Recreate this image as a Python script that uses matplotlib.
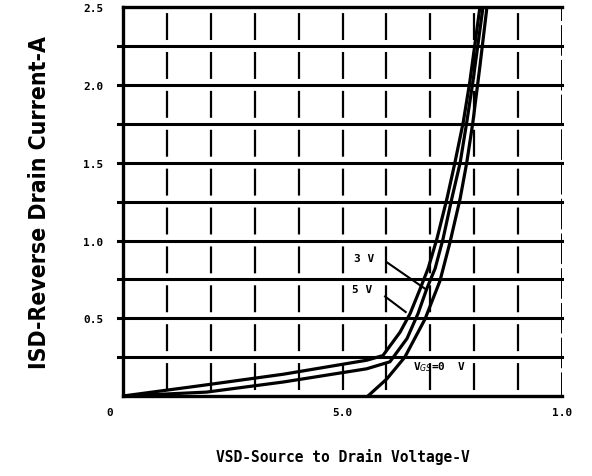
import numpy as np
import matplotlib
matplotlib.use('Agg')
import matplotlib.pyplot as plt

plt.rcParams['lines.scale_dashes'] = False

# (VSD in V, ISD in A)
vsd_5v = [0.0, 0.175, 0.365, 0.555, 0.592, 0.631, 0.654, 0.677, 0.695, 0.715,
          0.738, 0.756, 0.775, 0.790, 0.802, 0.813]
isd_5v = [0.0, 0.066, 0.14, 0.23, 0.26, 0.41, 0.53, 0.69, 0.82, 1.01,
          1.27, 1.50, 1.76, 2.02, 2.27, 2.5]

vsd_3v = [0.0, 0.19, 0.365, 0.555, 0.608, 0.647, 0.672, 0.692, 0.711, 0.729,
          0.749, 0.768, 0.783, 0.797, 0.809, 0.820]
isd_3v = [0.0, 0.025, 0.09, 0.175, 0.22, 0.37, 0.53, 0.69, 0.82, 1.01,
          1.27, 1.50, 1.76, 2.02, 2.27, 2.5]

vsd_0v = [0.558, 0.601, 0.642, 0.688, 0.722, 0.745, 0.768, 0.783, 0.797, 0.813, 0.829]
isd_0v = [0.0, 0.11, 0.25, 0.495, 0.74, 0.99, 1.27, 1.50, 1.76, 2.12, 2.5]

x_ticks = [0.0, 0.5, 1.0]
x_ticklabels = ['0', '5.0', '1.0']
y_ticks = [0.5, 1.0, 1.5, 2.0, 2.5]
y_ticklabels = ['0.5', '1.0', '1.5', '2.0', '2.5']

fig = plt.figure(figsize=(5.92, 4.77), dpi=100)
ax = fig.add_axes([0.2078, 0.1677, 0.7415, 0.815])
ax.set_xlim(0, 1.0)
ax.set_ylim(0, 2.5)

# grid: solid horizontal lines, dashed verticals
for yy in np.arange(0.25, 2.5, 0.25):
    ax.plot([-0.012, 1.0], [yy, yy], color='black', lw=2.2, clip_on=False, zorder=2)
for xx in np.arange(0.1, 1.0, 0.1):
    ax.plot([xx, xx], [0, 2.5], color='black', lw=1.6,
            linestyle=(23.7, (19.4, 8.6)), zorder=2)
ax.plot([1.0, 1.0], [0, 2.5], color='black', lw=1.4,
        linestyle=(5, (22, 3)), zorder=2)

ax.spines['right'].set_visible(False)
for s in ['left', 'top', 'bottom']:
    ax.spines[s].set_linewidth(2.4)

ax.plot(vsd_5v, isd_5v, color='black', lw=2.3, zorder=3)
ax.plot(vsd_3v, isd_3v, color='black', lw=2.3, zorder=3)
ax.plot(vsd_0v, isd_0v, color='black', lw=2.3, zorder=3)

tfont = dict(family='DejaVu Sans Mono', weight='bold', fontsize=8)
ax.set_xticks(x_ticks)
ax.set_xticklabels(x_ticklabels, **tfont)
ax.set_yticks(y_ticks)
ax.set_yticklabels(y_ticklabels, **tfont)
ax.tick_params(axis='x', length=0, pad=8)
ax.tick_params(axis='y', length=0, pad=14)
ax.get_xticklabels()[0].set_visible(False)
ax.text(-0.022, -0.07, '0', ha='right', va='top', **tfont)

# curve labels
ax.text(0.55, 0.89, '3 V', ha='center', va='center', **tfont)
ax.plot([0.601, 0.688], [0.86, 0.69], color='black', lw=1.5)
ax.text(0.545, 0.69, '5 V', ha='center', va='center', **tfont)
ax.plot([0.597, 0.644], [0.64, 0.54], color='black', lw=1.5)
ax.text(0.66, 0.19, r'V$_{GS}$=0  V', ha='left', va='center', **tfont)

ax.set_xlabel('VSD-Source to Drain Voltage-V', family='DejaVu Sans Mono',
              weight='bold', fontsize=10.5, labelpad=22)
ax.set_ylabel('ISD-Reverse Drain Current-A', family='DejaVu Sans',
              fontstretch='condensed', weight='bold', fontsize=16.5, labelpad=23)

fig.savefig('out.png', dpi=100, facecolor='white')
